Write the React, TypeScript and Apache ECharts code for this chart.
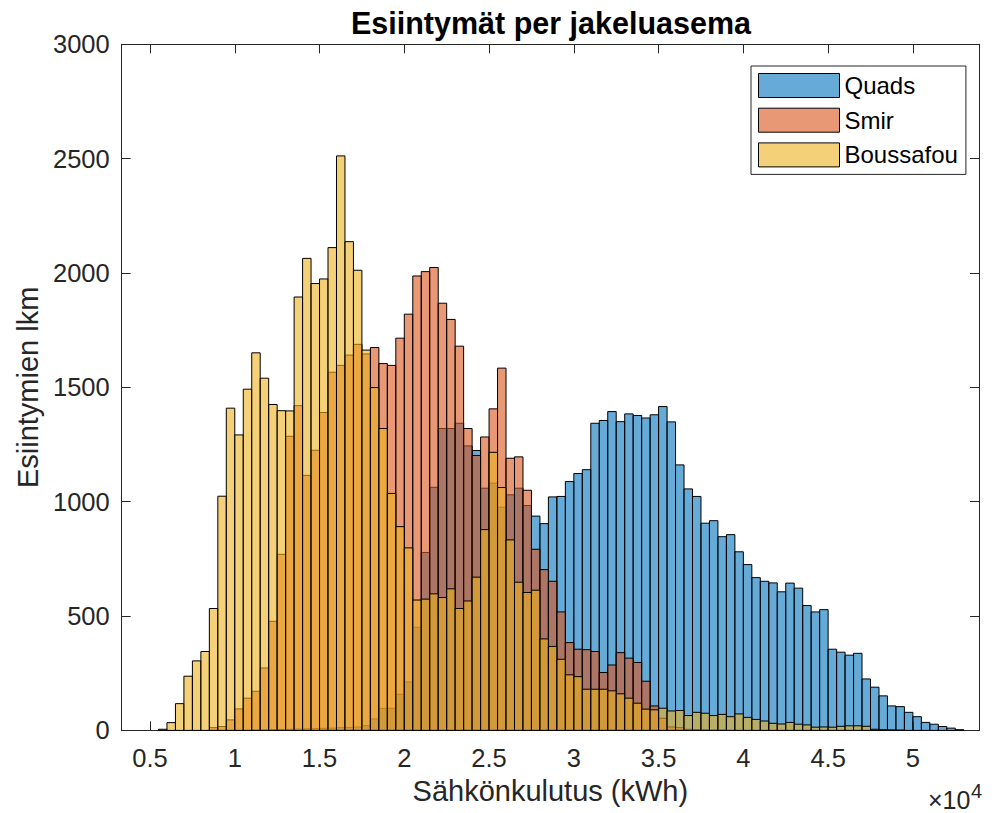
import React, { useEffect, useRef } from "react";
import * as echarts from "echarts";

// Histogram bin edges (kWh), bin width 500
const binEdges = [
  5500, 6000, 6500, 7000, 7500, 8000, 8500, 9000, 9500, 10000,
  10500, 11000, 11500, 12000, 12500, 13000, 13500, 14000, 14500, 15000,
  15500, 16000, 16500, 17000, 17500, 18000, 18500, 19000, 19500, 20000,
  20500, 21000, 21500, 22000, 22500, 23000, 23500, 24000, 24500, 25000,
  25500, 26000, 26500, 27000, 27500, 28000, 28500, 29000, 29500, 30000,
  30500, 31000, 31500, 32000, 32500, 33000, 33500, 34000, 34500, 35000,
  35500, 36000, 36500, 37000, 37500, 38000, 38500, 39000, 39500, 40000,
  40500, 41000, 41500, 42000, 42500, 43000, 43500, 44000, 44500, 45000,
  45500, 46000, 46500, 47000, 47500, 48000, 48500, 49000, 49500, 50000,
  50500, 51000, 51500, 52000, 52500, 53000,
];

const quadsCounts = [
  0, 0, 0, 0, 0, 0, 0, 0, 0, 0,
  0, 1, 2, 3, 4, 5, 6, 7, 8, 9,
  10, 12, 13, 15, 21, 50, 96, 97, 158, 212,
  451, 778, 1063, 1320, 1320, 1343, 1244, 1224, 1059, 1081,
  976, 1030, 1059, 983, 937, 904, 1021, 1023, 1088, 1123,
  1140, 1343, 1355, 1394, 1350, 1384, 1377, 1366, 1380, 1416,
  1349, 1161, 1056, 1023, 906, 917, 847, 856, 781, 725,
  668, 652, 645, 606, 644, 622, 546, 518, 528, 355,
  342, 329, 337, 225, 189, 151, 107, 104, 79, 60,
  35, 27, 17, 10, 3,
];

const smirCounts = [
  0, 0, 0, 0, 0, 0, 12, 17, 46, 94,
  141, 171, 273, 477, 770, 1286, 1420, 1115, 1225, 1390,
  1566, 1596, 1641, 1688, 1646, 1674, 1604, 1596, 1715, 1820,
  1987, 2006, 2024, 1868, 1797, 1680, 1320, 1202, 1283, 1406,
  1584, 1190, 1196, 1050, 792, 703, 652, 518, 384, 355,
  353, 345, 253, 286, 340, 316, 297, 215, 107, 53,
  15, 12, 5, 3, 2, 1, 1, 0, 0, 0,
  0, 0, 0, 0, 0, 0, 0, 0, 0, 0,
  0, 0, 0, 0, 0, 0, 0, 0, 0, 0,
  0, 0, 0, 0, 0,
];

const boussafouCounts = [
  5, 34, 117, 237, 304, 345, 533, 1024, 1409, 1292,
  1492, 1651, 1540, 1425, 1398, 1397, 1895, 2064, 1954, 1974,
  2111, 2512, 2137, 2012, 1663, 1499, 1320, 1036, 891, 798,
  570, 574, 597, 581, 619, 533, 566, 670, 878, 1216,
  1062, 833, 648, 603, 613, 400, 367, 311, 243, 235,
  180, 180, 180, 173, 160, 141, 119, 93, 90, 97,
  85, 87, 65, 79, 75, 65, 70, 60, 72, 57,
  48, 41, 31, 28, 35, 27, 24, 14, 15, 14,
  18, 20, 20, 18, 5, 3, 2, 1, 0, 0,
  0, 0, 0, 0, 0,
];

const seriesNames = ["Quads", "Smir", "Boussafou"];
const xTickValues = [5000, 10000, 15000, 20000, 25000, 30000, 35000, 40000, 45000, 50000];

const FONT = '"Liberation Sans", Arial, Helvetica, sans-serif';
const AX = "#262626";
const COLORS = ["rgba(0,114,189,0.6)", "rgba(217,83,25,0.6)", "rgba(237,177,32,0.6)"];

function toBins(counts: number[]) {
  return counts.map((c, i) => [binEdges[i], binEdges[i + 1], c]);
}

export default function App() {
  const ref = useRef<HTMLDivElement>(null);
  useEffect(() => {
    document.body.style.margin = "0";
    if (!ref.current) return;
    const chart = echarts.init(ref.current, undefined, { renderer: "svg" });
    const allCounts = [quadsCounts, smirCounts, boussafouCounts];
    const series = seriesNames.map((name, si) => ({
      name,
      type: "custom",
      xAxisIndex: 0,
      yAxisIndex: 0,
      encode: { x: [0, 1], y: 2 },
      itemStyle: { color: COLORS[si], borderColor: "#000", borderWidth: 1 },
      data: toBins(allCounts[si]),
      renderItem: (params: any, api: any) => {
        const v = api.value(2);
        if (!v) return null;
        const p0 = api.coord([api.value(0), v]);
        const p1 = api.coord([api.value(1), 0]);
        return {
          type: "rect",
          shape: { x: p0[0], y: p0[1], width: p1[0] - p0[0], height: p1[1] - p0[1] },
          style: { fill: COLORS[si], stroke: "#000", lineWidth: 1 },
        };
      },
    }));

    const xMin = 3330;
    const xMax = 53900;
    chart.setOption({
      animation: false,
      backgroundColor: "#fff",
      title: {
        text: "Esiintymät per jakeluasema",
        left: 546,
        textAlign: "center",
        top: 2,
        textStyle: { fontFamily: FONT, fontSize: 30.5, fontWeight: "bold", color: "#000" },
      },
      grid: { left: 121.7, right: 15, top: 44.3, bottom: 82.6 },
      legend: {
        orient: "vertical",
        left: 751,
        top: 66,
        padding: [7, 8, 7, 7],
        itemGap: 9.7,
        itemWidth: 81,
        itemHeight: 24,
        icon: "rect",
        borderColor: AX,
        borderWidth: 1,
        backgroundColor: "#fff",
        textStyle: { fontFamily: FONT, fontSize: 24, color: "#000" },
        data: seriesNames.map((n, i) => ({
          name: n,
          itemStyle: { color: COLORS[i], borderColor: "#000", borderWidth: 1 },
        })),
      },
      xAxis: [
        {
          type: "value",
          position: "bottom",
          min: xMin,
          max: xMax,
          name: "Sähkönkulutus (kWh)",
          nameLocation: "middle",
          nameGap: 45,
          nameTextStyle: { fontFamily: FONT, fontSize: 29, color: AX },
          axisLine: { show: true, onZero: false, lineStyle: { color: AX, width: 1 } },
          axisTick: { show: true, inside: true, length: 9, customValues: xTickValues, lineStyle: { color: AX } },
          axisLabel: {
            show: true,
            customValues: xTickValues,
            margin: 15,
            fontFamily: FONT,
            fontSize: 25.5,
            color: AX,
            formatter: (v: number) => String(v / 10000),
          },
          splitLine: { show: false },
        },
        {
          type: "value",
          position: "top",
          min: xMin,
          max: xMax,
          axisLine: { show: true, onZero: false, lineStyle: { color: AX, width: 1 } },
          axisTick: { show: true, inside: true, length: 9, customValues: xTickValues, lineStyle: { color: AX } },
          axisLabel: { show: false },
          splitLine: { show: false },
        },
      ],
      yAxis: [
        {
          type: "value",
          position: "left",
          min: 0,
          max: 3000,
          interval: 500,
          name: "Esiintymien lkm",
          nameLocation: "middle",
          nameGap: 68,
          nameTextStyle: { fontFamily: FONT, fontSize: 29, color: AX },
          axisLine: { show: true, onZero: false, lineStyle: { color: AX, width: 1 } },
          axisTick: { show: true, inside: true, length: 9, lineStyle: { color: AX } },
          axisLabel: {
            show: true,
            margin: 12,
            fontFamily: FONT,
            fontSize: 25.5,
            color: AX,
            formatter: (v: number) => String(v),
          },
          splitLine: { show: false },
        },
        {
          type: "value",
          position: "right",
          min: 0,
          max: 3000,
          interval: 500,
          axisLine: { show: true, onZero: false, lineStyle: { color: AX, width: 1 } },
          axisTick: { show: true, inside: true, length: 9, lineStyle: { color: AX } },
          axisLabel: { show: false },
          splitLine: { show: false },
        },
      ],
      graphic: [
        {
          type: "text",
          style: {
            text: "×10",
            x: 928,
            y: 800,
            align: "left",
            verticalAlign: "middle",
            font: `25px ${FONT}`,
            fill: AX,
          },
        },
        {
          type: "text",
          style: {
            text: "4",
            x: 971,
            y: 791,
            align: "left",
            verticalAlign: "middle",
            font: `20px ${FONT}`,
            fill: AX,
          },
        },
      ],
      series,
    });
    return () => chart.dispose();
  }, []);
  return <div ref={ref} style={{ width: 994, height: 813 }} />;
}
